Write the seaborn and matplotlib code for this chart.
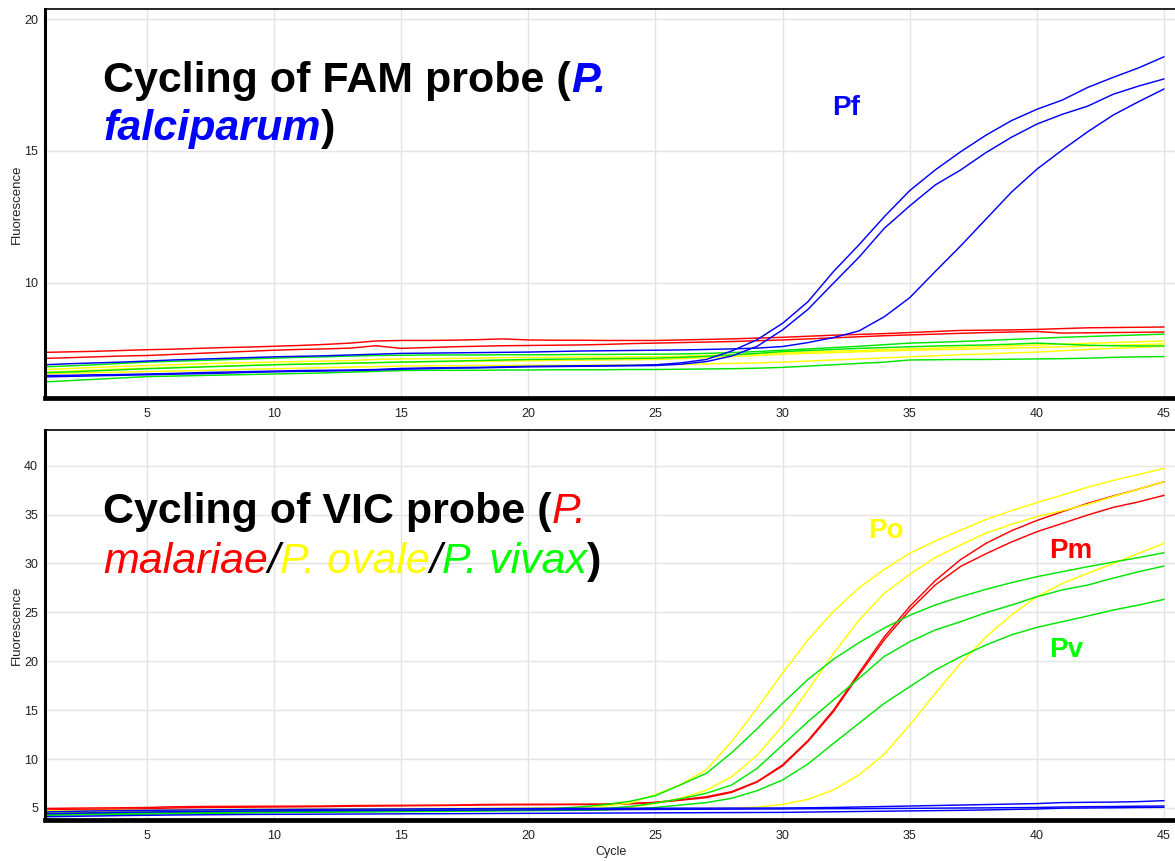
import numpy as np
import pandas as pd
import matplotlib
matplotlib.use("Agg")
import matplotlib.pyplot as plt
import seaborn as sns

# ---------------------------------------------------------------- data
cycles = list(range(1, 46))

# FAM channel (P. falciparum probe)
fam_pf1 = [6.49, 6.50, 6.52, 6.53, 6.55, 6.57, 6.60, 6.62, 6.64, 6.66,
           6.68, 6.69, 6.70, 6.72, 6.76, 6.78, 6.79, 6.80, 6.82, 6.84,
           6.85, 6.86, 6.87, 6.88, 6.90, 6.97, 7.10, 7.42, 7.85, 8.47,
           9.29, 10.43, 11.44, 12.51, 13.50, 14.28, 14.97, 15.60, 16.15, 16.58,
           16.93, 17.41, 17.79, 18.15, 18.57]
fam_pf2 = [6.44, 6.46, 6.48, 6.50, 6.52, 6.54, 6.56, 6.58, 6.61, 6.63,
           6.65, 6.66, 6.68, 6.70, 6.73, 6.75, 6.77, 6.78, 6.80, 6.82,
           6.83, 6.84, 6.85, 6.86, 6.87, 6.92, 7.02, 7.23, 7.60, 8.22,
           9.00, 9.99, 10.97, 12.07, 12.92, 13.71, 14.28, 14.94, 15.52, 16.02,
           16.39, 16.70, 17.15, 17.46, 17.73]
fam_pf3 = [6.90, 6.94, 6.97, 7.00, 7.04, 7.08, 7.11, 7.14, 7.17, 7.20,
           7.22, 7.24, 7.27, 7.30, 7.33, 7.34, 7.35, 7.36, 7.37, 7.38,
           7.40, 7.42, 7.43, 7.44, 7.45, 7.46, 7.48, 7.50, 7.53, 7.59,
           7.74, 7.93, 8.18, 8.72, 9.44, 10.43, 11.40, 12.42, 13.44, 14.31,
           15.04, 15.73, 16.36, 16.87, 17.35]
fam_pm1 = [7.37, 7.39, 7.41, 7.44, 7.47, 7.49, 7.52, 7.55, 7.57, 7.60,
           7.63, 7.67, 7.72, 7.80, 7.82, 7.82, 7.83, 7.85, 7.88, 7.84,
           7.83, 7.83, 7.82, 7.82, 7.82, 7.84, 7.86, 7.88, 7.91, 7.94,
           7.98, 8.02, 8.05, 8.08, 8.12, 8.16, 8.20, 8.21, 8.22, 8.24,
           8.27, 8.30, 8.31, 8.32, 8.33]
fam_pm2 = [7.14, 7.17, 7.20, 7.23, 7.25, 7.29, 7.33, 7.37, 7.41, 7.45,
           7.48, 7.50, 7.53, 7.62, 7.52, 7.55, 7.58, 7.60, 7.62, 7.63,
           7.64, 7.65, 7.67, 7.70, 7.72, 7.74, 7.76, 7.78, 7.81, 7.84,
           7.88, 7.92, 7.96, 8.00, 8.03, 8.06, 8.09, 8.12, 8.14, 8.16,
           8.10, 8.11, 8.12, 8.13, 8.14]
fam_po1 = [6.72, 6.76, 6.80, 6.84, 6.87, 6.90, 6.93, 6.96, 6.98, 7.00,
           7.02, 7.04, 7.06, 7.10, 7.12, 7.13, 7.14, 7.15, 7.17, 7.18,
           7.18, 7.19, 7.19, 7.20, 7.20, 7.22, 7.25, 7.28, 7.31, 7.35,
           7.38, 7.41, 7.44, 7.47, 7.50, 7.53, 7.56, 7.59, 7.62, 7.65,
           7.68, 7.71, 7.74, 7.77, 7.80]
fam_po2 = [6.62, 6.66, 6.70, 6.74, 6.77, 6.80, 6.83, 6.85, 6.88, 6.90,
           6.92, 6.94, 6.96, 6.98, 7.00, 7.01, 7.02, 7.03, 7.04, 7.05,
           7.06, 7.07, 7.08, 7.09, 7.10, 7.13, 7.17, 7.21, 7.25, 7.30,
           7.33, 7.36, 7.39, 7.42, 7.45, 7.47, 7.49, 7.51, 7.53, 7.55,
           7.58, 7.61, 7.64, 7.66, 7.69]
fam_po3 = [6.55, 6.58, 6.60, 6.62, 6.64, 6.66, 6.68, 6.70, 6.73, 6.75,
           6.77, 6.79, 6.81, 6.83, 6.85, 6.86, 6.86, 6.87, 6.87, 6.88,
           6.88, 6.88, 6.89, 6.89, 6.90, 6.91, 6.93, 6.95, 6.97, 7.00,
           7.04, 7.08, 7.12, 7.16, 7.20, 7.24, 7.28, 7.31, 7.35, 7.38,
           7.43, 7.48, 7.52, 7.56, 7.60]
fam_pv1 = [6.82, 6.86, 6.90, 6.95, 7.00, 7.03, 7.06, 7.09, 7.12, 7.15,
           7.18, 7.20, 7.23, 7.25, 7.26, 7.27, 7.27, 7.27, 7.28, 7.28,
           7.28, 7.29, 7.29, 7.30, 7.30, 7.31, 7.33, 7.36, 7.40, 7.45,
           7.50, 7.55, 7.60, 7.66, 7.72, 7.75, 7.78, 7.82, 7.86, 7.90,
           7.94, 7.97, 8.00, 8.03, 8.06]
fam_pv2 = [6.60, 6.63, 6.67, 6.71, 6.75, 6.78, 6.81, 6.84, 6.87, 6.90,
           6.92, 6.94, 6.96, 6.98, 7.00, 7.02, 7.04, 7.06, 7.08, 7.10,
           7.11, 7.12, 7.13, 7.14, 7.15, 7.18, 7.22, 7.27, 7.33, 7.40,
           7.44, 7.48, 7.52, 7.55, 7.58, 7.61, 7.63, 7.65, 7.68, 7.72,
           7.68, 7.64, 7.62, 7.61, 7.61]
fam_pv3 = [6.25, 6.30, 6.35, 6.40, 6.45, 6.47, 6.49, 6.51, 6.53, 6.55,
           6.57, 6.59, 6.62, 6.65, 6.68, 6.69, 6.69, 6.69, 6.70, 6.70,
           6.71, 6.71, 6.71, 6.72, 6.72, 6.73, 6.74, 6.75, 6.77, 6.80,
           6.85, 6.90, 6.95, 7.00, 7.08, 7.09, 7.10, 7.10, 7.11, 7.12,
           7.13, 7.15, 7.18, 7.20, 7.21]

# VIC channel (P. malariae / P. ovale / P. vivax probe)
vic_pm1 = [4.95, 4.98, 5.00, 5.02, 5.05, 5.12, 5.15, 5.16, 5.17, 5.18,
           5.19, 5.20, 5.24, 5.26, 5.27, 5.28, 5.29, 5.35, 5.37, 5.38,
           5.38, 5.38, 5.40, 5.46, 5.58, 5.85, 6.15, 6.67, 7.70, 9.40,
           11.90, 15.00, 18.80, 22.50, 25.60, 28.24, 30.40, 32.06, 33.35, 34.40,
           35.30, 36.15, 36.90, 37.60, 38.36]
vic_pm2 = [4.80, 4.83, 4.86, 4.89, 4.92, 5.00, 5.04, 5.06, 5.08, 5.10,
           5.12, 5.14, 5.18, 5.20, 5.22, 5.24, 5.26, 5.30, 5.32, 5.33,
           5.34, 5.35, 5.36, 5.42, 5.55, 5.80, 6.05, 6.60, 7.65, 9.30,
           11.80, 14.85, 18.60, 22.20, 25.24, 27.80, 29.70, 31.00, 32.20, 33.25,
           34.10, 34.96, 35.74, 36.30, 36.97]
vic_po1 = [4.70, 4.72, 4.74, 4.76, 4.78, 4.80, 4.82, 4.84, 4.86, 4.88,
           4.89, 4.90, 4.91, 4.92, 4.93, 4.94, 4.95, 4.96, 4.97, 4.98,
           5.00, 5.05, 5.20, 5.50, 6.36, 7.40, 8.90, 11.80, 15.20, 18.80,
           22.20, 25.10, 27.50, 29.40, 31.04, 32.30, 33.40, 34.50, 35.40, 36.22,
           37.00, 37.80, 38.50, 39.10, 39.73]
vic_po2 = [4.60, 4.62, 4.64, 4.66, 4.68, 4.70, 4.72, 4.74, 4.76, 4.78,
           4.80, 4.82, 4.84, 4.86, 4.88, 4.89, 4.90, 4.91, 4.92, 4.93,
           4.94, 4.95, 4.97, 5.05, 5.45, 6.00, 6.80, 8.20, 10.40, 13.40,
           17.06, 20.80, 24.20, 26.95, 28.90, 30.60, 31.90, 33.10, 34.00, 34.80,
           35.40, 36.05, 36.85, 37.60, 38.36]
vic_po3 = [4.50, 4.52, 4.54, 4.56, 4.58, 4.60, 4.62, 4.64, 4.66, 4.68,
           4.70, 4.72, 4.73, 4.74, 4.75, 4.76, 4.77, 4.78, 4.79, 4.80,
           4.81, 4.82, 4.83, 4.84, 4.86, 4.88, 4.92, 4.98, 5.08, 5.37,
           5.88, 6.84, 8.37, 10.50, 13.50, 16.70, 19.80, 22.50, 24.73, 26.60,
           27.96, 29.00, 30.00, 31.04, 32.06]
vic_pv1 = [4.45, 4.48, 4.51, 4.54, 4.57, 4.60, 4.63, 4.66, 4.69, 4.72,
           4.74, 4.76, 4.78, 4.80, 4.82, 4.84, 4.86, 4.88, 4.90, 4.92,
           4.95, 5.10, 5.34, 5.68, 6.26, 7.38, 8.54, 10.65, 13.10, 15.70,
           18.15, 20.20, 21.90, 23.40, 24.70, 25.75, 26.60, 27.36, 28.04, 28.65,
           29.16, 29.67, 30.15, 30.60, 31.10]
vic_pv2 = [4.35, 4.38, 4.41, 4.44, 4.47, 4.50, 4.53, 4.56, 4.59, 4.62,
           4.64, 4.66, 4.68, 4.70, 4.72, 4.74, 4.76, 4.78, 4.80, 4.82,
           4.84, 4.87, 4.95, 5.15, 5.50, 5.95, 6.50, 7.35, 9.05, 11.44,
           13.83, 16.04, 18.25, 20.50, 22.00, 23.20, 24.05, 24.97, 25.75, 26.60,
           27.30, 27.80, 28.50, 29.16, 29.74]
vic_pv3 = [4.25, 4.28, 4.31, 4.34, 4.37, 4.40, 4.43, 4.46, 4.49, 4.52,
           4.54, 4.56, 4.58, 4.60, 4.62, 4.64, 4.66, 4.68, 4.70, 4.72,
           4.74, 4.76, 4.80, 4.88, 5.05, 5.30, 5.55, 5.99, 6.77, 7.86,
           9.50, 11.60, 13.65, 15.70, 17.40, 19.10, 20.47, 21.67, 22.70, 23.47,
           24.05, 24.63, 25.24, 25.75, 26.33]
vic_pf1 = [4.60, 4.65, 4.70, 4.73, 4.76, 4.78, 4.80, 4.82, 4.84, 4.85,
           4.86, 4.87, 4.88, 4.89, 4.90, 4.91, 4.92, 4.93, 4.94, 4.95,
           4.95, 4.96, 4.96, 4.97, 4.97, 4.98, 4.98, 4.99, 4.99, 5.00,
           5.02, 5.05, 5.10, 5.15, 5.20, 5.25, 5.30, 5.35, 5.40, 5.45,
           5.55, 5.58, 5.60, 5.65, 5.75]
vic_pf2 = [4.40, 4.45, 4.50, 4.55, 4.58, 4.61, 4.64, 4.66, 4.68, 4.70,
           4.71, 4.72, 4.73, 4.74, 4.75, 4.76, 4.77, 4.78, 4.79, 4.80,
           4.81, 4.82, 4.83, 4.84, 4.85, 4.86, 4.87, 4.88, 4.89, 4.90,
           4.92, 4.93, 4.94, 4.95, 4.96, 4.98, 5.00, 5.01, 5.03, 5.05,
           5.10, 5.13, 5.15, 5.18, 5.20]
vic_pf3 = [4.10, 4.14, 4.18, 4.22, 4.25, 4.28, 4.30, 4.32, 4.34, 4.35,
           4.36, 4.37, 4.38, 4.39, 4.40, 4.41, 4.42, 4.43, 4.44, 4.45,
           4.46, 4.47, 4.48, 4.49, 4.50, 4.51, 4.52, 4.53, 4.54, 4.55,
           4.58, 4.61, 4.64, 4.67, 4.70, 4.73, 4.76, 4.80, 4.85, 4.90,
           4.98, 5.00, 5.02, 5.05, 5.07]

species_color = {"Pm": "#ff0000", "Po": "#ffff00", "Pv": "#00e600", "Pf": "#0000ff"}
text_green = "#00ff00"

fam_wells = {"Pm-1": fam_pm1, "Pm-2": fam_pm2,
             "Po-1": fam_po1, "Po-2": fam_po2, "Po-3": fam_po3,
             "Pv-1": fam_pv1, "Pv-2": fam_pv2, "Pv-3": fam_pv3,
             "Pf-1": fam_pf1, "Pf-2": fam_pf2, "Pf-3": fam_pf3}
vic_wells = {"Pm-1": vic_pm1, "Pm-2": vic_pm2,
             "Po-1": vic_po1, "Po-2": vic_po2, "Po-3": vic_po3,
             "Pv-1": vic_pv1, "Pv-2": vic_pv2, "Pv-3": vic_pv3,
             "Pf-1": vic_pf1, "Pf-2": vic_pf2, "Pf-3": vic_pf3}


def long_table(wells):
    rows = []
    for name, vals in wells.items():
        for c, v in zip(cycles, vals):
            rows.append({"Cycle": c, "Fluorescence": v, "well": name})
    return pd.DataFrame(rows)


# ---------------------------------------------------------------- style
sns.set_theme(style="whitegrid")
FONT = "Liberation Sans"
plt.rcParams["font.family"] = [FONT, "DejaVu Sans"]

W, H = 1175, 861
fig = plt.figure(figsize=(W / 100, H / 100), dpi=100)
fig.patch.set_facecolor("white")


def px_axes(left, top, right, bottom):
    return fig.add_axes([left / W, 1 - bottom / H, (right - left) / W, (bottom - top) / H])


ax_fam = px_axes(45, 9, 1175, 398)
ax_vic = px_axes(45, 430, 1175, 820)

palette = {name: species_color[name.split("-")[0]] for name in fam_wells}
hue_order = list(fam_wells.keys())

for ax, wells, ylim, yticks in [
    (ax_fam, fam_wells, (5.64, 20.38), [10, 15, 20]),
    (ax_vic, vic_wells, (3.77, 43.65), [5, 10, 15, 20, 25, 30, 35, 40]),
]:
    df = long_table(wells)
    sns.lineplot(data=df, x="Cycle", y="Fluorescence", hue="well",
                 hue_order=hue_order, palette=palette, estimator=None,
                 sort=False, legend=False, linewidth=1.05, ax=ax)
    ax.set_xlim(1, 45.43)
    ax.set_ylim(*ylim)
    ax.set_xticks([5, 10, 15, 20, 25, 30, 35, 40, 45])
    ax.set_yticks(yticks)
    ax.set_xlabel("")
    ax.set_ylabel("")
    ax.set_facecolor("white")
    ax.grid(True, color="#e4e4e4", linewidth=1.0)
    ax.set_axisbelow(True)
    for side in ["left", "bottom", "top", "right"]:
        ax.spines[side].set_color("black")
    ax.spines["left"].set_linewidth(2.2)
    ax.spines["bottom"].set_linewidth(3.4)
    ax.spines["top"].set_linewidth(1.2)
    ax.spines["right"].set_visible(False)
    ax.tick_params(axis="both", which="both", direction="out", length=4,
                   width=0.8, color="#999999", labelsize=9,
                   labelcolor="#222222", pad=3)
    ax.tick_params(axis="y", pad=1)
    for lab in ax.get_xticklabels() + ax.get_yticklabels():
        lab.set_fontfamily(FONT)

# axis titles
fig.text(17 / W, 1 - 204 / H, "Fluorescence", rotation=90, ha="center",
         va="center", fontsize=9.5, color="#222222", family=FONT)
fig.text(17 / W, 1 - 625 / H, "Fluorescence", rotation=90, ha="center",
         va="center", fontsize=9.5, color="#222222", family=FONT)
fig.text(611 / W, 1 - 852 / H, "Cycle", ha="center", va="center",
         fontsize=9, color="#222222", family=FONT)

# multi-coloured panel headings
renderer = fig.canvas.get_renderer()


def heading(x_px, y_px, runs, size=31):
    x = x_px
    for s, color, weight, style in runs:
        t = fig.text(x / W, 1 - y_px / H, s, color=color, fontsize=size,
                     fontweight=weight, fontstyle=style, family=FONT,
                     ha="left", va="baseline")
        x += t.get_window_extent(renderer).width


heading(103, 92, [("Cycling of FAM probe (", "black", "bold", "normal"),
                  ("P.", "#0000ff", "bold", "italic")])
heading(103, 140, [("falciparum", "#0000ff", "bold", "italic"),
                   (")", "black", "bold", "normal")])
heading(103, 523, [("Cycling of VIC probe (", "black", "bold", "normal"),
                   ("P.", "#ff0000", "normal", "italic")])
heading(103, 573, [("malariae", "#ff0000", "normal", "italic"),
                   ("/", "black", "normal", "italic"),
                   ("P. ovale", "#ffff00", "normal", "italic"),
                   ("/", "black", "normal", "italic"),
                   ("P. vivax", text_green, "normal", "italic"),
                   (")", "black", "bold", "normal")])

# species labels next to the curve groups
lab_kw = dict(fontsize=20, fontweight="bold", family=FONT, ha="left", va="baseline")
ax_fam.text(31.95, 16.36, "Pf", color="#0000ff", **lab_kw)
ax_vic.text(33.36, 32.6, "Po", color="#ffff00", **lab_kw)
ax_vic.text(40.48, 30.56, "Pm", color="#ff0000", **lab_kw)
ax_vic.text(40.48, 20.44, "Pv", color=text_green, **lab_kw)

fig.savefig("out.png", dpi=100, facecolor="white")
